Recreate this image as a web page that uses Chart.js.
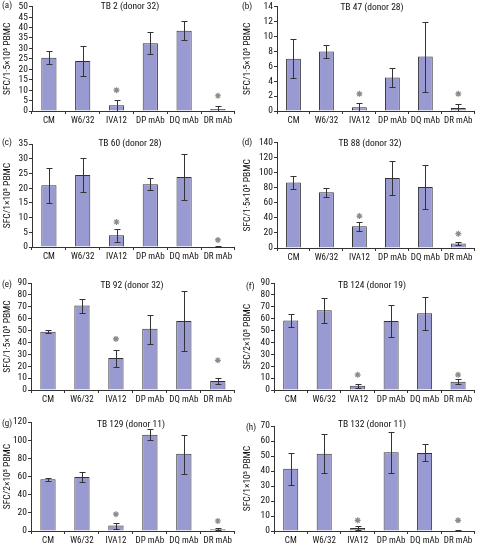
<!DOCTYPE html>
<html>
<head>
<meta charset="utf-8">
<script src="https://cdn.jsdelivr.net/npm/chart.js@4"></script>
<style>
  body { margin: 0; background: #fff; width: 480px; height: 545px; position: relative; overflow: hidden; font-family: "Roboto Condensed", "Liberation Sans", Arial, sans-serif; }
  .panel { position: absolute; }
  .lbl { position: absolute; font-size: 9px; color: #111; white-space: nowrap; }
  .ttl { position: absolute; font-size: 9.5px; color: #111; white-space: nowrap; transform: translateX(-50%); }
</style>
</head>
<body>
<script>
const categories = ['CM', 'W6/32', 'IVA12', 'DP mAb', 'DQ mAb', 'DR mAb'];

// mean, error bar low/high, asterisk heights for each panel
const tb2Mean = [25.5, 24, 2.8, 32.5, 38.5, 1];
const tb2Lo = [22.5, 17, 0, 27.2, 34.2, 0];
const tb2Hi = [28.8, 31, 5.5, 37.8, 43, 2.3];
const tb2Star = [null, null, 10, null, null, 7.3];

const tb47Mean = [7, 8, 0.5, 4.5, 7.3, 0.4];
const tb47Lo = [4.4, 7.1, 0, 3.2, 2.5, 0];
const tb47Hi = [9.6, 8.9, 1.1, 5.8, 12, 1];
const tb47Star = [null, null, 2.3, null, null, 2.3];

const tb60Mean = [21, 24.5, 4, 21.3, 23.8, 0.2];
const tb60Lo = [14.8, 18.7, 1.8, 19.3, 16.1, 0.1];
const tb60Hi = [27, 30.4, 6.2, 23.3, 31.5, 0.3];
const tb60Star = [null, null, 8.5, null, null, 2.4];

const tb88Mean = [87, 74, 29, 93, 81, 6];
const tb88Lo = [78, 68, 23, 70, 52, 4];
const tb88Hi = [96, 80, 35, 116, 110, 8];
const tb88Star = [null, null, 42.5, null, null, 19];

const tb92Mean = [49, 71, 27, 51.5, 58, 7.5];
const tb92Lo = [48, 65, 19.5, 39, 32.5, 5];
const tb92Hi = [50.5, 76.5, 34, 63.5, 83.5, 10];
const tb92Star = [null, null, 43, null, null, 25];

const tb124Mean = [58.5, 67, 3.5, 58, 64.5, 7];
const tb124Lo = [53, 56.5, 2, 44.5, 50.5, 5];
const tb124Hi = [64, 77, 5, 71.5, 78, 9];
const tb124Star = [null, null, 12.8, null, null, 12.8];

const tb129Mean = [57, 59.5, 6, 106, 85, 2];
const tb129Lo = [55.5, 54, 2.5, 100, 63, 1];
const tb129Hi = [58, 65, 9, 112, 106, 3];
const tb129Star = [null, null, 18.5, null, null, 11];

const tb132Mean = [41.5, 51.5, 2, 52.5, 52, 0.3];
const tb132Lo = [31, 38.5, 0.5, 38.5, 46.5, 0];
const tb132Hi = [52, 64.5, 3.5, 66, 58, 1];
const tb132Star = [null, null, 7.1, null, null, 7.1];

const panels = [
  { tag: '(a)', title: 'TB 2 (donor 32)', y: 'SFC/1·5×10⁵ PBMC', mean: tb2Mean, lo: tb2Lo, hi: tb2Hi, star: tb2Star, max: 50, step: 5,
    box: { left: 0, top: 0, h: 136, axisX: 32, plotTop: 4, plotBottom: 111, plotRight: 235 } },
  { tag: '(b)', title: 'TB 47 (donor 28)', y: 'SFC/1·5×10⁵ PBMC', mean: tb47Mean, lo: tb47Lo, hi: tb47Hi, star: tb47Star, max: 14, step: 2,
    box: { left: 240, top: 0, h: 136, axisX: 277, plotTop: 6, plotBottom: 111, plotRight: 476 } },
  { tag: '(c)', title: 'TB 60 (donor 28)', y: 'SFC/1×10⁵ PBMC', mean: tb60Mean, lo: tb60Lo, hi: tb60Hi, star: tb60Star, max: 35, step: 5,
    box: { left: 0, top: 136, h: 136, axisX: 32, plotTop: 144, plotBottom: 247, plotRight: 235 } },
  { tag: '(d)', title: 'TB 88 (donor 32)', y: 'SFC/1·5×10⁵ PBMC', mean: tb88Mean, lo: tb88Lo, hi: tb88Hi, star: tb88Star, max: 140, step: 20,
    box: { left: 240, top: 136, h: 136, axisX: 277, plotTop: 142, plotBottom: 248, plotRight: 476 } },
  { tag: '(e)', title: 'TB 92 (donor 32)', y: 'SFC/1·5×10⁵ PBMC', mean: tb92Mean, lo: tb92Lo, hi: tb92Hi, star: tb92Star, max: 90, step: 10,
    box: { left: 0, top: 272, h: 136, axisX: 31, plotTop: 283, plotBottom: 390, plotRight: 235 } },
  { tag: '(f)', title: 'TB 124 (donor 19)', y: 'SFC/2×10⁵ PBMC', mean: tb124Mean, lo: tb124Lo, hi: tb124Hi, star: tb124Star, max: 90, step: 10,
    box: { left: 240, top: 272, h: 136, axisX: 274, plotTop: 283, plotBottom: 390, plotRight: 477 } },
  { tag: '(g)', title: 'TB 129 (donor 11)', y: 'SFC/2×10⁵ PBMC', mean: tb129Mean, lo: tb129Lo, hi: tb129Hi, star: tb129Star, max: 120, step: 20,
    box: { left: 0, top: 408, h: 137, axisX: 31, plotTop: 422, plotBottom: 531, plotRight: 235 } },
  { tag: '(h)', title: 'TB 132 (donor 11)', y: 'SFC/1×10⁵ PBMC', mean: tb132Mean, lo: tb132Lo, hi: tb132Hi, star: tb132Star, max: 70, step: 10,
    box: { left: 240, top: 408, h: 137, axisX: 274, plotTop: 426, plotBottom: 531, plotRight: 477 } }
];

const tagPos = [[2, 0], [242, 1], [2, 137], [242, 137], [2, 279], [246, 281], [2, 418], [246, 422]];
const titlePos = [[130, 0], [372, 1], [130, 137], [370, 137], [132, 279], [372, 279], [131, 418], [372, 418]];
const fontFam = '"Roboto Condensed", "Liberation Sans", Arial, sans-serif';

const errorBars = {
  id: 'errorBars',
  afterDatasetsDraw(chart, args, opts) {
    const meta = chart.getDatasetMeta(0);
    const y = chart.scales.y;
    const c = chart.ctx;
    c.save();
    c.strokeStyle = '#333';
    c.lineWidth = 1;
    meta.data.forEach((bar, i) => {
      const top = Math.round(y.getPixelForValue(opts.hi[i])) + 0.5;
      const bot = Math.round(y.getPixelForValue(opts.lo[i])) + 0.5;
      const x = Math.round(bar.x) + 0.5;
      c.beginPath();
      c.moveTo(x, top); c.lineTo(x, bot);
      c.moveTo(x - 3, top); c.lineTo(x + 3, top);
      c.moveTo(x - 3, bot); c.lineTo(x + 3, bot);
      c.stroke();
    });
    c.restore();
  }
};

function makeChart(p, idx) {
  const b = p.box;
  const div = document.createElement('div');
  div.className = 'panel';
  div.style.left = b.left + 'px';
  div.style.top = b.top + 'px';
  const canvas = document.createElement('canvas');
  canvas.width = 240;
  canvas.height = b.h;
  canvas.style.width = '240px';
  canvas.style.height = b.h + 'px';
  div.appendChild(canvas);
  document.body.appendChild(div);

  const tag = document.createElement('div');
  tag.className = 'lbl';
  tag.textContent = p.tag;
  tag.style.left = tagPos[idx][0] + 'px';
  tag.style.top = tagPos[idx][1] + 'px';
  document.body.appendChild(tag);

  const ttl = document.createElement('div');
  ttl.className = 'ttl';
  ttl.textContent = p.title;
  ttl.style.left = titlePos[idx][0] + 'px';
  ttl.style.top = titlePos[idx][1] + 'px';
  document.body.appendChild(ttl);

  new Chart(canvas, {
    type: 'bar',
    data: {
      labels: categories,
      datasets: [{
        data: p.mean,
        backgroundColor: '#9a9ad2',
        borderColor: '#333',
        borderWidth: 1,
        barPercentage: 0.45,
        categoryPercentage: 1,
        order: 2
      }, {
        type: 'line',
        data: p.star,
        showLine: false,
        pointStyle: 'star',
        pointRadius: 3,
        borderColor: '#8a8a8a',
        backgroundColor: '#8a8a8a',
        pointBorderWidth: 1.2,
        order: 1
      }]
    },
    options: {
      responsive: false,
      animation: false,
      events: [],
      layout: {
        padding: { top: b.plotTop - b.top, right: b.left + 240 - b.plotRight, left: 0, bottom: 0 }
      },
      plugins: {
        legend: { display: false },
        tooltip: { enabled: false },
        errorBars: { lo: p.lo, hi: p.hi }
      },
      scales: {
        x: {
          afterFit: s => { s.height = b.top + b.h - b.plotBottom; },
          border: { color: '#333', width: 1 },
          grid: { drawOnChartArea: false, tickLength: 3, color: '#333', offset: true },
          ticks: { color: '#111', font: { size: 9, family: fontFam }, padding: 1, maxRotation: 0, autoSkip: false }
        },
        y: {
          min: 0,
          max: p.max,
          afterFit: s => { s.width = b.axisX - b.left; },
          border: { color: '#333', width: 1 },
          grid: { drawOnChartArea: false, tickLength: 3, color: '#333' },
          ticks: { stepSize: p.step, autoSkip: false, color: '#111', font: { size: 9.5, family: fontFam }, padding: 1 },
          title: { display: true, text: p.y, color: '#111', font: { size: 9.5, family: fontFam }, padding: { top: 2, bottom: 0 } }
        }
      }
    },
    plugins: [errorBars]
  });
}

panels.forEach(makeChart);
</script>
</body>
</html>
